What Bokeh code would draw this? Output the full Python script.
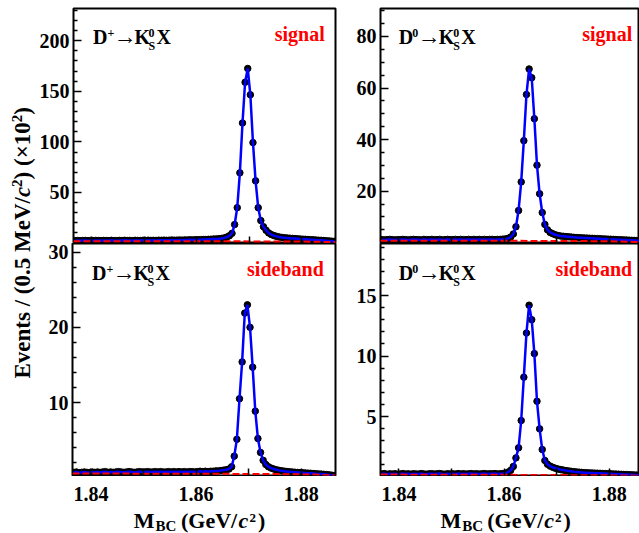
import numpy as np
from bokeh.plotting import figure
from bokeh.models import Label, FixedTicker, Range1d
from bokeh.layouts import row, column
from bokeh.embed import file_html
from bokeh.resources import INLINE

# ---------------- data (Events / 0.5 MeV, x10^2) ----------------
bin_lo = 1.8365
bin_w = 0.0005
n_bins = 100
mbc = [round(bin_lo + bin_w * (i + 0.5), 5) for i in range(n_bins)]

dp_signal = [
    2.4, 2.5, 2.3, 2.5, 2.6, 2.4, 2.5, 2.3, 2.6, 2.5,
    2.4, 2.6, 2.5, 2.4, 2.7, 2.5, 2.4, 2.6, 2.5, 2.7,
    2.5, 2.6, 2.4, 2.7, 2.6, 2.5, 2.7, 2.6, 2.8, 2.6,
    2.7, 2.6, 2.8, 2.7, 2.9, 2.7, 2.8, 3.0, 2.8, 2.9,
    3.0, 2.9, 3.1, 3.0, 3.2, 3.1, 3.3, 3.2, 3.4, 3.5,
    3.5, 3.7, 3.8, 4.0, 4.1, 4.3, 4.6, 5.1, 5.9, 7.2,
    9.6, 18.3, 35.0, 69.4, 118.7, 159.0, 172.6, 146.6, 99.3, 61.5,
    35.0, 22.2, 16.2, 12.6, 10.0, 8.4, 7.4, 6.6, 6.0, 5.6,
    5.3, 5.0, 4.8, 4.6, 4.4, 4.2, 4.0, 3.8, 3.7, 3.5,
    3.3, 3.2, 3.0, 2.8, 2.7, 2.5, 2.3, 2.1, 1.9, 1.7,
]
d0_signal = [
    1.2, 1.1, 1.2, 1.3, 1.2, 1.1, 1.2, 1.2, 1.3, 1.2,
    1.1, 1.2, 1.3, 1.2, 1.2, 1.1, 1.3, 1.2, 1.2, 1.3,
    1.2, 1.2, 1.3, 1.1, 1.2, 1.3, 1.2, 1.2, 1.3, 1.2,
    1.3, 1.2, 1.2, 1.3, 1.2, 1.3, 1.2, 1.3, 1.2, 1.3,
    1.2, 1.3, 1.3, 1.2, 1.3, 1.3, 1.4, 1.5, 1.7, 2.2,
    3.4, 6.2, 12.5, 23.6, 39.6, 57.5, 67.4, 64.0, 48.1, 30.1,
    19.0, 11.7, 7.1, 5.0, 4.0, 3.5, 3.1, 2.8, 2.6, 2.5,
    2.4, 2.3, 2.2, 2.1, 2.0, 1.95, 1.9, 1.85, 1.8, 1.75,
    1.7, 1.65, 1.6, 1.55, 1.5, 1.45, 1.4, 1.35, 1.3, 1.25,
    1.2, 1.15, 1.1, 1.05, 1.0, 0.95, 0.9, 0.85, 0.8, 0.75,
]
dp_sideband = [
    0.70, 0.75, 0.65, 0.70, 0.75, 0.70, 0.65, 0.75, 0.70, 0.75,
    0.70, 0.75, 0.80, 0.70, 0.75, 0.70, 0.75, 0.80, 0.75, 0.70,
    0.75, 0.80, 0.75, 0.70, 0.75, 0.80, 0.75, 0.75, 0.80, 0.75,
    0.75, 0.80, 0.75, 0.80, 0.75, 0.75, 0.80, 0.75, 0.80, 0.75,
    0.80, 0.75, 0.80, 0.75, 0.80, 0.80, 0.75, 0.80, 0.85, 0.80,
    0.85, 0.80, 0.85, 0.85, 0.90, 0.90, 0.95, 1.00, 1.05, 1.15,
    1.45, 2.86, 5.1, 10.5, 15.4, 21.9, 23.0, 20.0, 14.7, 8.85,
    5.2, 3.35, 2.3, 1.75, 1.45, 1.27, 1.15, 1.05, 0.97, 0.91,
    0.86, 0.82, 0.78, 0.75, 0.72, 0.69, 0.67, 0.65, 0.62, 0.60,
    0.58, 0.55, 0.52, 0.50, 0.47, 0.44, 0.41, 0.37, 0.33, 0.29,
]
d0_sideband = [
    0.25, 0.28, 0.22, 0.26, 0.24, 0.27, 0.23, 0.25, 0.28, 0.24,
    0.26, 0.23, 0.27, 0.25, 0.24, 0.28, 0.25, 0.23, 0.26, 0.27,
    0.24, 0.26, 0.28, 0.25, 0.23, 0.27, 0.25, 0.26, 0.24, 0.28,
    0.25, 0.27, 0.24, 0.26, 0.28, 0.25, 0.27, 0.24, 0.26, 0.28,
    0.25, 0.27, 0.26, 0.28, 0.25, 0.27, 0.28, 0.30, 0.40, 0.55,
    0.87, 1.58, 2.41, 4.67, 8.25, 11.9, 14.2, 13.0, 10.2, 6.26,
    3.98, 2.27, 1.36, 1.05, 0.90, 0.80, 0.72, 0.66, 0.61, 0.57,
    0.53, 0.50, 0.47, 0.44, 0.42, 0.40, 0.38, 0.36, 0.35, 0.34,
    0.33, 0.32, 0.31, 0.30, 0.29, 0.28, 0.27, 0.26, 0.25, 0.24,
    0.23, 0.22, 0.21, 0.20, 0.19, 0.18, 0.17, 0.16, 0.15, 0.14,
]

# background (red dashed) read at a few masses
bg_x = [1.8365, 1.860, 1.875, 1.882, 1.8865]
dp_signal_bg = [1.9, 1.8, 1.6, 1.4, 0.9]
d0_signal_bg = [0.8, 0.75, 0.65, 0.5, 0.2]
dp_sideband_bg = [0.55, 0.52, 0.48, 0.42, 0.30]
d0_sideband_bg = [0.20, 0.18, 0.15, 0.13, 0.10]

# ticks
x_major = [1.84, 1.86, 1.88]
x_minor = [1.85, 1.87]
x_tick_labels = ["1.84", "1.86", "1.88"]
tl_yticks = [50, 100, 150, 200]
tr_yticks = [20, 40, 60, 80]
bl_yticks = [10, 20, 30]
br_yticks = [5, 10, 15]

FONT = "Liberation Serif"
X0 = 1.8365
PX_PER_GEV = 263 / 0.05
DELTA = 0.32  # alphabetic-baseline correction, in em


def panel(width, height, frame_w, yr, bl, br, bt, bb, yticks, ystep):
    xr = (X0, X0 + frame_w / PX_PER_GEV)
    p = figure(width=width, height=height, x_range=Range1d(*xr), y_range=Range1d(*yr),
               output_backend="svg", toolbar_location=None,
               min_border_left=bl, min_border_right=br, min_border_top=bt, min_border_bottom=bb)
    p.grid.visible = False
    p.outline_line_color = "black"
    p.outline_line_width = 2
    p.background_fill_color = "white"
    p.border_fill_color = "white"
    ymin = [float(v) for v in np.arange(ystep, yr[1], ystep)
            if min(abs(v - t) for t in yticks) > 1e-6]
    ya = p.yaxis[0]
    ya.ticker = FixedTicker(ticks=yticks, minor_ticks=ymin)
    xa = p.xaxis[0]
    # x tick marks only; the tick labels are drawn in the strip below
    xa.ticker = FixedTicker(ticks=[], minor_ticks=sorted(x_major + x_minor))
    for ax in (xa, ya):
        ax.axis_line_color = None
        ax.major_tick_out = 0
        ax.minor_tick_out = 0
        ax.major_tick_line_width = 1.5
        ax.minor_tick_line_width = 1.5
        ax.major_tick_line_color = "black"
        ax.minor_tick_line_color = "black"
        ax.major_label_text_font = FONT
        ax.major_label_text_font_style = "bold"
        ax.major_label_text_font_size = "20px"
        ax.major_label_text_color = "black"
    ya.major_tick_in = 8
    ya.minor_tick_in = 4
    ya.major_label_standoff = 4
    xa.major_tick_in = 7
    xa.minor_tick_in = 7
    xa.major_label_standoff = 0
    return p, xr


def lab(p, x, y, dx, down, text, size=20, style="bold", align="left", color="black"):
    """Label whose alphabetic baseline lies `down` px below (x, y), shifted dx px right."""
    p.add_layout(Label(x=x, y=y, x_offset=dx, y_offset=-(down - DELTA * size), text=text,
                       text_font=FONT, text_font_style=style, text_font_size=f"{size}px",
                       text_align=align, text_baseline="alphabetic", text_color=color))


def decay(p, xr, yr, first, sup, pos, base):
    x, y = xr[0], yr[1]
    lab(p, x, y, pos[0], base, first)
    lab(p, x, y, pos[1], base - 6.5, sup, size=12)
    lab(p, x, y, pos[2] - 1, base, "\u2192", size=23)
    lab(p, x, y, pos[3], base, "K")
    lab(p, x, y, pos[4], base - 6.5, "0", size=12)
    lab(p, x, y, pos[4], base + 6.5, "S", size=12)
    lab(p, x, y, pos[5], base, "X")


def draw(p, y, bg):
    p.scatter(mbc, y, size=6.5, color="black")
    p.line(mbc, y, line_color="blue", line_width=2.5)
    p.line(bg_x, bg, line_color="red", line_width=2, line_dash="7 3")


def strip(width, height, xr=None):
    s = figure(width=width, height=height,
               x_range=Range1d(*(xr if xr else (0, width))),
               y_range=Range1d(height, 0),
               output_backend="svg", toolbar_location=None, min_border=0,
               x_axis_location=None, y_axis_location=None)
    s.grid.visible = False
    s.outline_line_color = None
    s.background_fill_color = "white"
    s.border_fill_color = "white"
    return s


def xstrip(width, height, left_border):
    xr = (X0 - left_border / PX_PER_GEV, X0 + (width - left_border) / PX_PER_GEV)
    s = strip(width, height, xr)
    for v, t in zip(x_major, x_tick_labels):
        lab(s, v, 0, 0, 24, t, size=20, align="center")
    return s


def xtitle(s, pos, base):
    lab(s, X0, 0, pos[0], base, "M", size=22)
    lab(s, X0, 0, pos[1], base + 3, "BC", size=15)
    lab(s, X0, 0, pos[2], base, "(GeV/", size=22)
    lab(s, X0, 0, pos[3], base, "c", size=22, style="bold italic")
    lab(s, X0, 0, pos[4], base - 5, "2", size=13)
    lab(s, X0, 0, pos[5], base, ")", size=22)


TOP_H = 243          # frame 8..243
BOT_H = 233          # frame 243..475
XT_H = 533 - TOP_H - BOT_H

# top-left: D+ signal
tl_yr = (-0.43, 231.9)
tl, tl_xr = panel(301, TOP_H, 263, tl_yr, 36, 2, 8, 0, tl_yticks, 10)
draw(tl, dp_signal, dp_signal_bg)
decay(tl, tl_xr, tl_yr, "D", "+", [19.5, 34, 41, 61, 75, 83], 35.3)
lab(tl, tl_xr[0], tl_yr[1], 251.3, 32, "signal", align="right", color="red")

# top-right: D0 signal
tr_yr = (-0.29, 90.86)
tr, tr_xr = panel(302, TOP_H, 259, tr_yr, 43, 0, 8, 0, tr_yticks, 5)
draw(tr, d0_signal, d0_signal_bg)
decay(tr, tr_xr, tr_yr, "D", "0", [18.3, 31.7, 38, 58.3, 72.7, 80.7], 35.3)
lab(tr, tr_xr[0], tr_yr[1], 251.7, 32, "signal", align="right", color="red")

# bottom-left: D+ sideband
bl_yr = (0.286, 31.16)
bl, bl_xr = panel(301, BOT_H, 263, bl_yr, 36, 2, 0, 1, bl_yticks, 2)
draw(bl, dp_sideband, dp_sideband_bg)
decay(bl, bl_xr, bl_yr, "D", "+", [19.5, 34, 41, 61, 75, 83], 36.3)
lab(bl, bl_xr[0], bl_yr[1], 251.3, 32, "sideband", align="right", color="red")

# bottom-right: D0 sideband
br_yr = (0.124, 19.3)
br, br_xr = panel(302, BOT_H, 259, br_yr, 43, 0, 0, 1, br_yticks, 1)
draw(br, d0_sideband, d0_sideband_bg)
decay(br, br_xr, br_yr, "D", "0", [18.3, 31.7, 38, 58.3, 72.7, 80.7], 36.3)
lab(br, br_xr[0], br_yr[1], 251.7, 32, "sideband", align="right", color="red")

# strips under the bottom panels: x tick labels and x titles
xl_l = xstrip(301, XT_H, 36)
xtitle(xl_l, [61.3, 83, 108.5, 166, 177, 185.5], 51)
xl_r = xstrip(302, XT_H, 43)
xtitle(xl_r, [60, 81.7, 106.7, 163.8, 174.5, 183], 51)

# shared y title: rotated pieces; (text, bottom y, size, style, raise)
yl = strip(36, 533)
YBASE = 29.5
ylab_pieces = [
    ("Events / (0.5 MeV/", 378, 23, "bold", 0),
    ("c", 196.6, 23, "bold italic", 0),
    ("2", 186.4, 15, "bold", 8),
    (")", 178.9, 23, "bold", 0),
    ("(\u00d710", 165.5, 23, "bold", 0),
    ("2", 121.7, 15, "bold", 8),
    (")", 114.2, 23, "bold", 0),
]
for txt, ystart, size, style, rz in ylab_pieces:
    yl.add_layout(Label(x=YBASE - rz - DELTA * size, y=ystart, text=txt, angle=np.pi / 2,
                        text_align="left", text_baseline="alphabetic",
                        text_font=FONT, text_font_style=style, text_font_size=f"{size}px",
                        text_color="black"))

layout = row(yl, column(row(tl, tr), row(bl, br), row(xl_l, xl_r)))
open("out.html", "w").write(file_html(layout, INLINE))
